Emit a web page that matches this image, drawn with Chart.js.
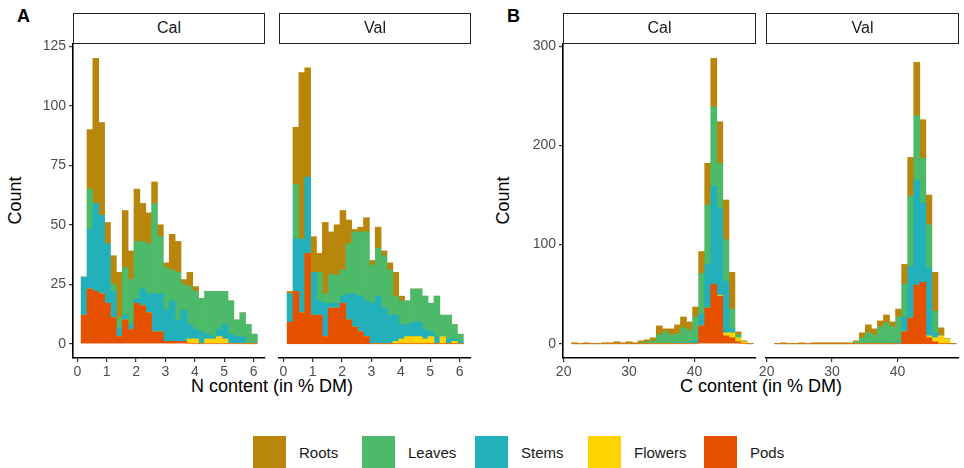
<!DOCTYPE html>
<html>
<head>
<meta charset="utf-8">
<script src="https://cdn.jsdelivr.net/npm/chart.js@4.4.1/dist/chart.umd.min.js"></script>
<style>
  body { margin: 0; background: #fff; font-family: 'Liberation Sans', Arial, sans-serif; }
  #wrap { position: relative; width: 964px; height: 468px; overflow: hidden; background: #fff; }
  canvas { position: absolute; }
  .strip { position: absolute; top: 13px; height: 31px; box-sizing: border-box; border: 1.4px solid #222;
           background: #fff; text-align: center; line-height: 28px; font-size: 16px; color: #1a1a1a; z-index: 2; }
  .tag { position: absolute; top: 6px; font-size: 18px; font-weight: bold; }
  .ytitle { position: absolute; font-size: 18px; transform: rotate(-90deg); transform-origin: center; width: 80px; text-align: center; }
  .xtitle { position: absolute; top: 376px; font-size: 18px; width: 300px; text-align: center; }
  .legend { position: absolute; top: 436px; left: 0; width: 964px; height: 32px; }
  .key { position: absolute; top: 0; width: 33px; height: 33px; }
  .lab { position: absolute; top: 8px; font-size: 15px; color: #1a1a1a; }
</style>
</head>
<body>
<div id="wrap">
  <div class="tag" style="left:17px">A</div>
  <div class="tag" style="left:507px">B</div>
  <div class="strip" style="left:73px;width:192px">Cal</div>
  <div class="strip" style="left:279px;width:192px">Val</div>
  <div class="strip" style="left:563px;width:193px">Cal</div>
  <div class="strip" style="left:766px;width:193px">Val</div>
  <div class="ytitle" style="left:-25px;top:190px">Count</div>
  <div class="ytitle" style="left:463px;top:190px">Count</div>
  <div class="xtitle" style="left:122px">N content (in % DM)</div>
  <div class="xtitle" style="left:611px">C content (in % DM)</div>
  <canvas id="aCal"></canvas>
  <canvas id="aVal"></canvas>
  <canvas id="bCal"></canvas>
  <canvas id="bVal"></canvas>
  <div class="legend" id="legend"></div>
</div>
<script>
// organ groups, stacked from the bottom up
let organs = ['Pods', 'Flowers', 'Stems', 'Leaves', 'Roots'];
let organColors = {
  Roots: '#B8860B',
  Leaves: '#4DBA69',
  Stems: '#22B0BB',
  Flowers: '#FFD200',
  Pods: '#E65100',
};
let legendOrder = ['Roots', 'Leaves', 'Stems', 'Flowers', 'Pods'];

// N content bins (% DM), bin centres
let nBins = [0.23, 0.43, 0.63, 0.83, 1.03, 1.23, 1.43, 1.63, 1.83, 2.03, 2.23, 2.43, 2.63, 2.83, 3.03,
  3.23, 3.43, 3.63, 3.83, 4.03, 4.23, 4.43, 4.63, 4.83, 5.03, 5.23, 5.43, 5.63, 5.83, 6.03];

// N content, calibration set
let nCalPods    = [12, 23, 22, 21, 17, 11, 3, 10, 6, 17, 16, 13, 5, 5, 1, 1, 1, 1, 0, 0, 0, 0, 0, 0, 0, 0, 0, 0, 0, 0];
let nCalFlowers = [0, 0, 0, 0, 0, 0, 0, 0, 0, 0, 0, 0, 0, 0, 0, 0, 0, 0, 2, 2, 0, 2, 2, 3, 2, 0, 0, 0, 0, 0];
let nCalStems   = [16, 25, 37, 33, 25, 11, 4, 2, 2, 2, 7, 8, 16, 16, 13, 17, 9, 13, 6, 4, 5, 2, 1, 3, 6, 4, 3, 3, 0, 0];
let nCalLeaves  = [0, 17, 0, 0, 0, 3, 4, 20, 19, 24, 20, 21, 38, 24, 18, 13, 20, 11, 16, 16, 14, 18, 19, 16, 14, 14, 7, 10, 8, 4];
let nCalRoots   = [0, 25, 61, 39, 9, 12, 19, 24, 12, 22, 16, 13, 9, 5, 2, 15, 13, 2, 6, 2, 0, 0, 0, 0, 0, 0, 0, 0, 0, 0];

// N content, validation set
let nValPods    = [9, 22, 13, 38, 12, 12, 3, 15, 15, 17, 10, 7, 5, 3, 0, 0, 0, 0, 0, 0, 0, 0, 0, 0, 0, 0, 0, 0, 0, 0];
let nValFlowers = [0, 0, 0, 0, 0, 0, 0, 0, 0, 0, 0, 0, 0, 0, 0, 0, 0, 0, 1, 2, 3, 3, 3, 2, 3, 0, 3, 0, 1, 0];
let nValStems   = [12, 22, 31, 32, 18, 6, 14, 2, 2, 3, 11, 14, 15, 15, 17, 20, 15, 12, 11, 6, 5, 6, 6, 4, 2, 3, 0, 2, 1, 1];
let nValLeaves  = [0, 23, 0, 0, 0, 12, 4, 12, 12, 11, 21, 26, 27, 29, 16, 20, 22, 19, 8, 10, 10, 14, 14, 14, 12, 17, 9, 10, 6, 3];
let nValRoots   = [1, 24, 70, 46, 15, 8, 30, 18, 21, 25, 10, 1, 2, 6, 2, 9, 2, 3, 10, 2, 0, 0, 0, 0, 0, 0, 0, 0, 0, 0];

// C content bins (% DM), bin centres
let cBins = [21.67, 22.595, 23.52, 24.445, 25.37, 26.295, 27.22, 28.145, 29.07, 29.995, 30.92, 31.845,
  32.77, 33.695, 34.62, 35.545, 36.47, 37.395, 38.32, 39.245, 40.17, 41.095, 42.02, 42.945, 43.87,
  44.795, 45.72, 46.645, 47.57, 48.495];

// C content, calibration set
let cCalPods    = [0, 0, 0, 0, 0, 0, 0, 0, 0, 0, 0, 0, 0, 0, 0, 0, 0, 0, 0, 0, 0, 18, 36, 60, 48, 8, 6, 2, 0, 0];
let cCalFlowers = [0, 0, 0, 0, 0, 0, 0, 0, 0, 0, 0, 0, 0, 0, 0, 0, 0, 0, 0, 0, 0, 0, 0, 0, 1, 3, 5, 4, 2, 0];
let cCalStems   = [0, 0, 0, 0, 0, 0, 0, 0, 0, 0, 0, 0, 0, 0, 0, 0, 0, 1, 1, 1, 3, 12, 44, 99, 88, 52, 4, 0, 0, 0];
let cCalLeaves  = [0, 0, 0, 0, 0, 0, 0, 0, 0, 0, 0, 1, 2, 3, 9, 12, 9, 9, 15, 13, 24, 41, 60, 80, 45, 42, 20, 3, 0, 0];
let cCalRoots   = [1, 0, 1, 0, 0, 1, 1, 2, 1, 2, 1, 2, 2, 3, 9, 3, 6, 9, 11, 8, 10, 22, 42, 49, 42, 40, 37, 3, 1, 0];

// C content, validation set
let cValPods    = [0, 0, 0, 0, 0, 0, 0, 0, 0, 0, 0, 0, 0, 0, 0, 0, 0, 0, 0, 0, 0, 12, 26, 59, 62, 6, 2, 0, 0, 0];
let cValFlowers = [0, 0, 0, 0, 0, 0, 0, 0, 0, 0, 0, 0, 0, 0, 0, 0, 0, 0, 0, 0, 0, 0, 0, 0, 0, 2, 4, 8, 5, 0];
let cValStems   = [0, 0, 0, 0, 0, 0, 0, 0, 0, 0, 0, 0, 0, 0, 0, 0, 0, 0, 0, 0, 2, 15, 52, 106, 80, 68, 5, 0, 0, 0];
let cValLeaves  = [0, 0, 0, 0, 0, 0, 0, 0, 0, 0, 0, 0, 0, 2, 6, 11, 9, 17, 21, 17, 25, 33, 71, 65, 45, 44, 22, 0, 0, 0];
let cValRoots   = [0, 1, 0, 0, 1, 0, 1, 1, 1, 1, 1, 1, 1, 1, 5, 8, 6, 6, 8, 5, 8, 20, 39, 54, 39, 30, 39, 8, 0, 0];

let nTicks = { min: -0.146, max: 6.39, step: 1 };
let cTicks = { min: 19.9, max: 49.4, step: 10 };
let nCount = { min: -6, max: 126, step: 25 };
let cCount = { min: -14.4, max: 302.4, step: 100 };

Chart.defaults.font.family = "'Liberation Sans', Arial, sans-serif";

function buildPanel(id, left, width, bins, series, xr, yr, showY) {
  let canvas = document.getElementById(id);
  canvas.width = width + 46;
  canvas.height = 354;
  canvas.style.left = (left - 40) + 'px';
  canvas.style.top = '34px';

  let datasets = organs.map((name, i) => ({
    label: name,
    data: bins.map((b, j) => ({ x: b, y: series[i][j] })),
    backgroundColor: organColors[name],
    borderWidth: 0,
    barPercentage: 1,
    categoryPercentage: 1,
  }));

  new Chart(canvas, {
    type: 'bar',
    data: { datasets: datasets },
    options: {
      responsive: false,
      animation: false,
      devicePixelRatio: 1,
      layout: { padding: { top: 10, right: 6, left: 0, bottom: 0 } },
      plugins: { legend: { display: false }, tooltip: { enabled: false } },
      scales: {
        x: {
          type: 'linear',
          stacked: true,
          offset: false,
          min: xr.min,
          max: xr.max,
          grid: { display: true, offset: false, drawOnChartArea: false, drawTicks: true, tickLength: 4, color: '#333', lineWidth: 1.2 },
          border: { display: true, color: '#000', width: 1.6 },
          ticks: { stepSize: xr.step, includeBounds: false, color: '#4d4d4d', font: { size: 14 }, padding: 2, maxRotation: 0 },
          afterFit: s => { s.height = 30; s.paddingLeft = 0; s.paddingRight = 0; },
        },
        y: {
          stacked: true,
          min: yr.min,
          max: yr.max,
          grid: { display: showY, drawOnChartArea: false, drawTicks: true, tickLength: 4, color: '#333', lineWidth: 1.2 },
          border: { display: showY, color: '#000', width: 1.6 },
          ticks: { display: showY, stepSize: yr.step, includeBounds: false, color: '#4d4d4d', font: { size: 14 }, padding: 3 },
          afterFit: s => { s.width = 40; s.paddingTop = 0; s.paddingBottom = 0; },
        },
      },
    },
  });
}

buildPanel('aCal', 73, 192, nBins, [nCalPods, nCalFlowers, nCalStems, nCalLeaves, nCalRoots], nTicks, nCount, true);
buildPanel('aVal', 279, 192, nBins, [nValPods, nValFlowers, nValStems, nValLeaves, nValRoots], nTicks, nCount, false);
buildPanel('bCal', 563, 193, cBins, [cCalPods, cCalFlowers, cCalStems, cCalLeaves, cCalRoots], cTicks, cCount, true);
buildPanel('bVal', 766, 193, cBins, [cValPods, cValFlowers, cValStems, cValLeaves, cValRoots], cTicks, cCount, false);

// legend below the panels
let legend = document.getElementById('legend');
let keyLeft = [253, 362, 475, 588, 704];
legendOrder.forEach((name, i) => {
  let key = document.createElement('div');
  key.className = 'key';
  key.style.left = keyLeft[i] + 'px';
  key.style.background = organColors[name];
  legend.appendChild(key);
  let lab = document.createElement('div');
  lab.className = 'lab';
  lab.style.left = (keyLeft[i] + 46) + 'px';
  lab.textContent = name;
  legend.appendChild(lab);
});
</script>
</body>
</html>
